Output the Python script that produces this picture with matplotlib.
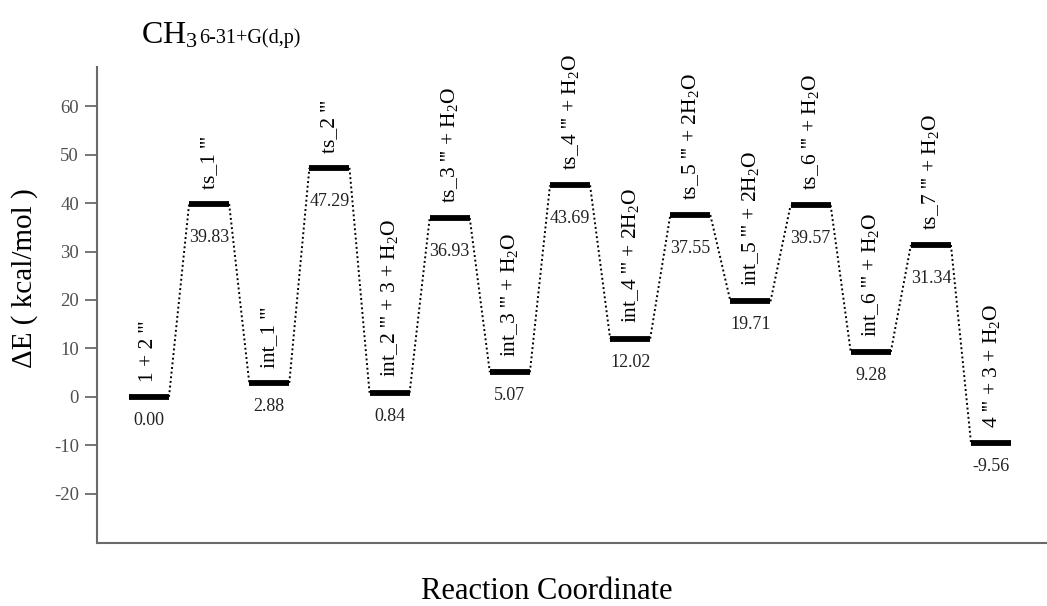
import matplotlib
matplotlib.use("Agg")
import matplotlib.pyplot as plt
import numpy as np

plt.rcParams['font.family'] = ['Liberation Serif', 'DejaVu Serif']
plt.rcParams['mathtext.fontset'] = 'custom'
plt.rcParams['mathtext.rm'] = 'Liberation Serif'
plt.rcParams['mathtext.it'] = 'Liberation Serif:italic'
plt.rcParams['mathtext.bf'] = 'Liberation Serif:bold'

# ---- data ----
species = ["1 + 2 '''", "ts_1 '''", "int_1 '''", "ts_2 '''",
           "int_2 ''' + 3 + H$_2$O", "ts_3 ''' + H$_2$O", "int_3 ''' + H$_2$O",
           "ts_4 ''' + H$_2$O", "int_4 ''' + 2H$_2$O", "ts_5 ''' + 2H$_2$O",
           "int_5 ''' + 2H$_2$O", "ts_6 ''' + H$_2$O", "int_6 ''' + H$_2$O",
           "ts_7 ''' + H$_2$O", "4 ''' + 3 + H$_2$O"]
energies = [0.00, 39.83, 2.88, 47.29, 0.84, 36.93, 5.07, 43.69,
            12.02, 37.55, 19.71, 39.57, 9.28, 31.34, -9.56]
is_ts = [False, True, False, True, False, True, False, True,
         False, True, False, True, False, True, False]
yticks = [-20, -10, 0, 10, 20, 30, 40, 50, 60]

fig = plt.figure(figsize=(10.47, 6.06), dpi=100)
ax = fig.add_axes([0.0926, 0.104, 0.9074, 0.786])

x = np.arange(len(energies))
hw = 0.333
gray = '#6a6a6a'

# connectors
for i in range(len(energies) - 1):
    ax.plot([x[i] + hw, x[i + 1] - hw], [energies[i], energies[i + 1]],
            linestyle=(0, (1, 1.4)), color='black', lw=1.4)

# levels
for i, e in enumerate(energies):
    ax.plot([x[i] - hw, x[i] + hw], [e, e], color='black', lw=4.2,
            solid_capstyle='butt')
    ax.annotate(species[i], (x[i], e), xytext=(0, 11), textcoords='offset points',
                rotation=90, ha='center', va='bottom', fontsize=15.5)
    off = -24 if is_ts[i] else -17
    ax.annotate(f"{e:.2f}", (x[i], e), xytext=(0, off), textcoords='offset points',
                ha='center', va='center', fontsize=13, color='#222222')

ax.set_xlim(-0.865, 14.93)
ax.set_ylim(-30.2, 68.2)
ax.set_yticks(yticks)
ax.set_yticklabels([str(t) for t in yticks])
ax.set_xticks([])
for s in ['top', 'right']:
    ax.spines[s].set_visible(False)
for s in ['left', 'bottom']:
    ax.spines[s].set_color(gray)
    ax.spines[s].set_linewidth(1.5)
ax.tick_params(axis='y', direction='out', length=9, width=1.3, color=gray,
               labelsize=13.5, labelcolor='#505050', pad=4)

ax.set_ylabel("ΔE ( kcal/mol )", fontsize=21)
ax.yaxis.set_label_coords(-0.062, 0.555)
fig.text(0.522, 0.012, "Reaction Coordinate", fontsize=22, ha='center', va='baseline')

fig.text(0.135, 0.929, "CH$_3$", fontsize=23, ha='left', va='baseline')
fig.text(0.190, 0.929, "6-31+G(d,p)", fontsize=14.5, ha='left', va='baseline')

fig.savefig("out.png", dpi=100)
